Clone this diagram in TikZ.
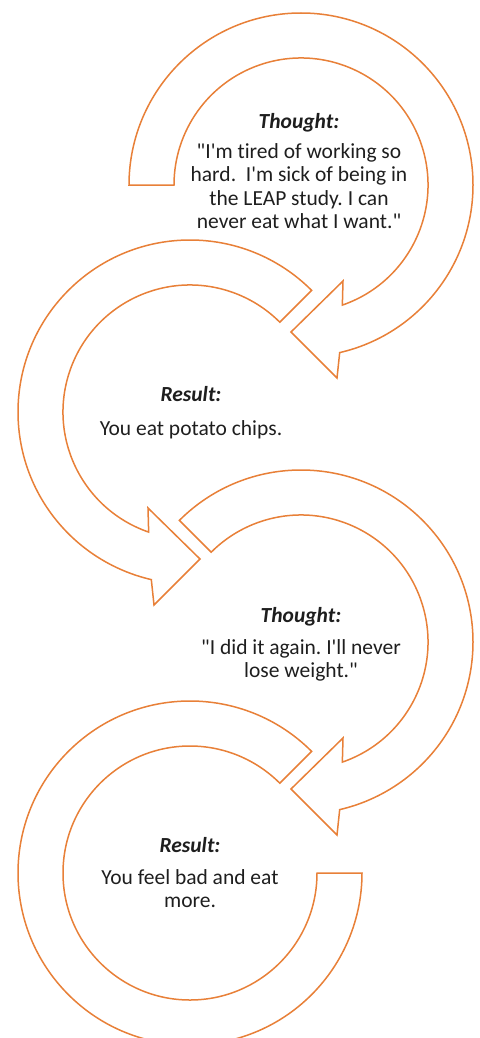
\documentclass[tikz,border=0pt]{standalone}
\usepackage{fontspec}
\setmainfont{Carlito}[Ligatures={TeXOff,NoCommon}]
\usetikzlibrary{positioning}
\frenchspacing

\definecolor{ringorange}{RGB}{232,128,56}
\definecolor{textgray}{RGB}{30,30,30}

% ring with an arrow head, turning clockwise; #1 centre, #2 mirror, #3 tail angle
\newcommand{\headring}[3]{%
  \draw [ring,shift={(#1)},xscale=#2]
    (#3:172) arc [start angle=#3, end angle=-77, radius=172]
    -- (36,-193) -- (-10,-147) -- (42,-96)
    -- (-71:127) arc [start angle=-71, end angle=#3, radius=127] -- cycle ;}

\begin{document}
\begin{tikzpicture}[x=1pt,y=1pt,
   ring/.style={draw=ringorange,line width=1.5pt,fill=white},
   cycletext/.style={align=center,anchor=north,inner sep=0pt,text=textgray,
     font=\fontsize{21.5}{23.5}\selectfont}]
   \useasboundingbox (0,0) rectangle (479,-1038);

   \coordinate (c1) at (301,-185);
   \coordinate (c2) at (190,-412);
   \coordinate (c3) at (301,-642);
   \coordinate (c4) at (190,-873);

   \headring{c1}{1}{180}
   \headring{c2}{-1}{135}
   \headring{c3}{1}{135}

   % last ring has no head
   \draw [ring,shift={(c4)}]
     (45:172) arc [start angle=45, end angle=360, radius=172]
     -- (0:127) arc [start angle=360, end angle=45, radius=127] -- cycle ;

   \node (thought1) [cycletext] at (299,-113)
     {\textbf{\textit{Thought:}}\\[6.5pt] "I'm tired of working so\\ hard.~ I'm sick of being in\\
      the LEAP study. I can\\ never eat what I want."} ;
   \node (result1) [cycletext] at (191,-386)
     {\textbf{\textit{Result:}}\\[11pt] You eat potato chips.} ;
   \node (thought2) [cycletext] at (301,-607)
     {\textbf{\textit{Thought:}}\\[8.5pt] "I did it again. I'll never\\ lose weight."} ;
   \node (result2) [cycletext] at (190,-837)
     {\textbf{\textit{Result:}}\\[8.5pt] You feel bad and eat\\ more.} ;

\end{tikzpicture}
\end{document}
